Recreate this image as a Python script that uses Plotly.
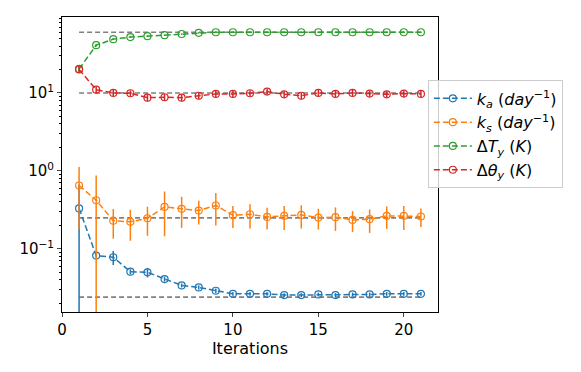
import plotly.graph_objects as go

iterations = list(range(1, 22))

k_a = [0.33, 0.082, 0.078, 0.051, 0.050, 0.041, 0.034, 0.032, 0.029, 0.0265, 0.0265,
       0.0265, 0.0255, 0.0255, 0.026, 0.0255, 0.026, 0.026, 0.0265, 0.0265, 0.0265]
k_a_err = [0.34, 0.005, 0.016, 0.004, 0.007, 0.003, 0.002, 0.002, 0.002, 0.0015, 0.0015,
           0.0015, 0.0015, 0.0015, 0.0015, 0.0015, 0.0015, 0.0015, 0.0015, 0.0015, 0.0015]

k_s = [0.65, 0.42, 0.23, 0.222, 0.247, 0.345, 0.326, 0.31, 0.36, 0.27, 0.278,
       0.257, 0.265, 0.272, 0.252, 0.255, 0.235, 0.24, 0.265, 0.265, 0.26]
k_s_err = [0.47, 0.45, 0.095, 0.095, 0.1, 0.2, 0.14, 0.105, 0.16, 0.085, 0.095,
           0.08, 0.09, 0.09, 0.075, 0.085, 0.07, 0.08, 0.085, 0.09, 0.07]

dT_y = [20.3, 41, 49, 52, 53.5, 55, 57, 59, 60, 60, 60,
        60, 60, 60, 60, 60, 60, 60, 60, 60, 60]
dT_y_err = [1.5, 1.5, 1.2, 1.2, 1.2, 1.2, 1.2, 1.2, 1.2, 1.2, 1.2,
            1.2, 1.2, 1.2, 1.2, 1.2, 1.2, 1.2, 1.2, 1.2, 1.2]

dtheta_y = [20, 11, 10, 9.9, 8.7, 8.8, 8.7, 9.2, 9.7, 9.7, 9.9,
            10.4, 9.6, 9.2, 10, 9.7, 10, 9.8, 9.6, 9.8, 9.7]
dtheta_y_err = [2, 1, 0.9, 0.9, 0.9, 0.9, 0.9, 0.9, 0.9, 0.9, 0.9,
                0.9, 0.9, 0.9, 0.9, 0.9, 0.9, 0.9, 0.9, 0.9, 0.9]

true_values = [0.024, 0.25, 60, 10]

names = ['<i>k</i><sub><i>a</i></sub> (<i>day</i><sup>−1</sup>)',
         '<i>k</i><sub><i>s</i></sub> (<i>day</i><sup>−1</sup>)',
         'Δ<i>T</i><sub><i>y</i></sub> (<i>K</i>)',
         'Δ<i>θ</i><sub><i>y</i></sub> (<i>K</i>)']
colors = ['#1f77b4', '#ff7f0e', '#2ca02c', '#d62728']
series = [(k_a, k_a_err), (k_s, k_s_err), (dT_y, dT_y_err), (dtheta_y, dtheta_y_err)]

# minor log ticks 2..9 x 10^n
minor_ticks = [m * 10 ** e for e in (-2, -1, 0, 1) for m in range(2, 10)]

fig = go.Figure()

for v in true_values:
    fig.add_trace(go.Scatter(
        x=[iterations[0], iterations[-1]], y=[v, v], mode='lines',
        line=dict(color='#808080', width=1.6, dash='5px,3px'),
        showlegend=False, hoverinfo='skip'))

for (vals, errs), name, c in zip(series, names, colors):
    fig.add_trace(go.Scatter(
        x=iterations, y=vals, name=name, mode='lines+markers',
        line=dict(color=c, width=1.5, dash='6px,3px'),
        marker=dict(symbol='circle-open', size=7, color=c, line=dict(width=1.2, color=c)),
        error_y=dict(type='data', array=errs, visible=True, color=c, thickness=1.5, width=0)))

# page body adds ~8px offset, so margins are shifted to compensate
fig.update_layout(
    width=581, height=372,
    margin=dict(l=54, r=151, t=9, b=68, autoexpand=False),
    plot_bgcolor='white', paper_bgcolor='white',
    font=dict(family='DejaVu Sans', size=14, color='black'),
    showlegend=True,
    legend=dict(x=0.973, y=0.785, xanchor='left', yanchor='top',
                bgcolor='rgba(255,255,255,0.8)', bordercolor='#cccccc', borderwidth=1,
                font=dict(size=16), itemwidth=38, tracegroupgap=4),
)

fig.update_xaxes(
    range=[0, 22], tickvals=[0, 5, 10, 15, 20], ticks='outside', ticklen=4,
    showline=True, linecolor='black', linewidth=1, mirror=True, showgrid=False, zeroline=False,
    tickfont=dict(size=15),
    title=dict(text='Iterations', font=dict(size=16), standoff=1),
)
fig.update_yaxes(
    type='log', range=[-1.81, 1.974],
    tickvals=[0.1, 1, 10], ticktext=['10<sup>−1</sup>', '10<sup>0</sup>', '10<sup>1</sup>'],
    ticks='outside', ticklen=4, tickfont=dict(size=15),
    minor=dict(ticks='outside', ticklen=2, tickcolor='black', showgrid=False,
               tickmode='array', tickvals=minor_ticks),
    showline=True, linecolor='black', linewidth=1, mirror=True, showgrid=False, zeroline=False,
)

fig.write_html("out.html")
